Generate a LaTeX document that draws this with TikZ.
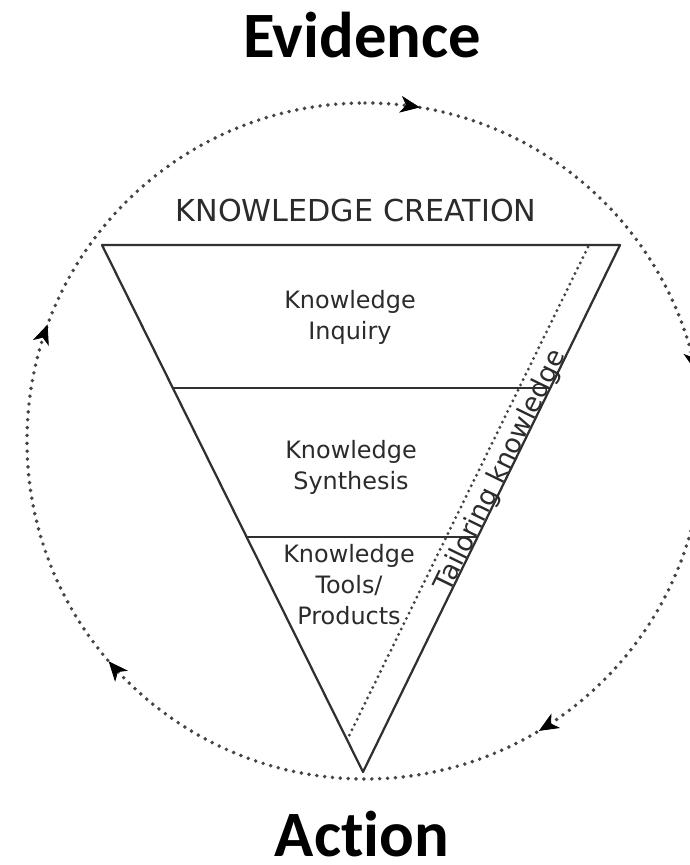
\documentclass[tikz,border=0pt]{standalone}
\usepackage{fontspec}
\setsansfont{DejaVu Sans}
\newfontfamily\headfont[Ligatures=NoCommon]{Carlito}
\usetikzlibrary{arrows.meta,calc,decorations.markings}
\definecolor{LineGray}{HTML}{303030}
\definecolor{DotGray}{HTML}{444444}
\definecolor{TextGray}{HTML}{2B2B2B}

\begin{document}
\begin{tikzpicture}[
    x=0.025cm, y=0.025cm,
    font=\sffamily,
    headline/.style={font=\headfont\bfseries\fontsize{46}{50}\selectfont, text=black, anchor=base, inner sep=0pt},
    layer/.style={font=\sffamily\fontsize{17}{22}\selectfont, text=TextGray, align=center, inner sep=0pt},
    edge/.style={draw=LineGray, line width=1.6pt, line join=round},
    dotline/.style={draw=DotGray, line width=2.8pt, line cap=round, dash pattern=on 0pt off 5.6pt},
    cycletip/.style={black, line width=0.6pt, solid}
]
  \useasboundingbox (0,0) rectangle (689,865);

  % -------------------------------------------------------------
  % CYCLE: EVIDENCE -> ACTION
  % -------------------------------------------------------------
  \coordinate (c) at (365,424);
  \draw[dotline, decoration={markings,
      mark=at position 0.026 with {\arrow[cycletip]{Stealth[length=14pt, width=12pt, inset=4pt]}},
      mark=at position 0.217 with {\arrow[cycletip]{Stealth[length=14pt, width=12pt, inset=4pt]}},
      mark=at position 0.414 with {\arrow[cycletip]{Stealth[length=14pt, width=12pt, inset=4pt]}},
      mark=at position 0.637 with {\arrow[cycletip]{Stealth[length=14pt, width=12pt, inset=4pt]}},
      mark=at position 0.806 with {\arrow[cycletip]{Stealth[length=14pt, width=12pt, inset=4pt]}}},
    postaction={decorate}]
    (c) ++(90:338) arc[start angle=90, end angle=-270, radius=338];

  \node[headline] (evidence) at (362,807) {Evidence};
  \node[headline] (action) at (362,8) {Action};

  % -------------------------------------------------------------
  % FUNNEL: KNOWLEDGE CREATION
  % -------------------------------------------------------------
  \coordinate (tl) at (102,620);
  \coordinate (tr) at (620,620);
  \coordinate (apex) at (363,93);
  \draw[edge] (tl) -- (tr) -- (apex) -- cycle;

  \draw[edge] ($(tl)!0.2713!(apex)$) -- ($(tr)!0.2713!(apex)$);
  \draw[edge] ($(tl)!0.5541!(apex)$) -- ($(tr)!0.5541!(apex)$);

  \coordinate (tailtop) at (588,618);
  \coordinate (tailbot) at (348,127);
  \draw[dotline, line width=2.3pt, dash pattern=on 0pt off 4.2pt] (tailtop) -- (tailbot);

  \node[font=\sffamily\fontsize{21.5}{24}\selectfont, text=TextGray, anchor=base, inner sep=0pt] (creation) at (356,643) {KNOWLEDGE CREATION};

  \node[layer] (inquiry) at (350,548) {Knowledge\\Inquiry};
  \node[layer] (synthesis) at (351,398) {Knowledge\\Synthesis};
  \node[layer] (tools) at (349,280) {Knowledge\\Tools/\\Products};

  \node[font=\sffamily\fontsize{19}{21}\selectfont, text=TextGray, rotate=64, inner sep=0pt] (tailoring) at (501,394) {Tailoring knowledge};

\end{tikzpicture}
\end{document}
